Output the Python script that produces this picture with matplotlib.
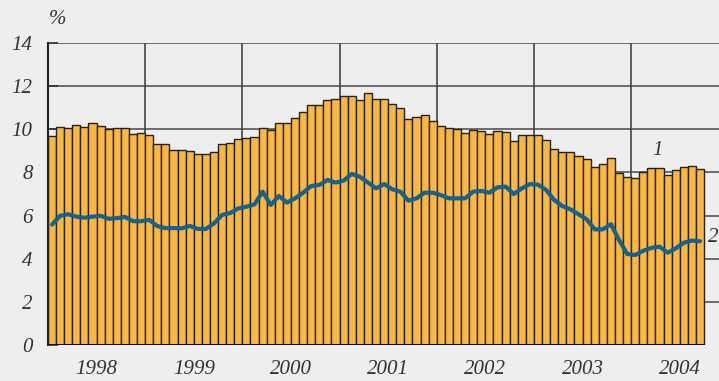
import matplotlib.pyplot as plt
import numpy as np

# monthly values, Jan 1998 - Sep 2004
series1 = [
    9.70, 10.10, 10.05, 10.20, 10.10, 10.30, 10.15, 10.00, 10.07, 10.05, 9.77, 9.85,
    9.72, 9.30, 9.33, 9.03, 9.05, 8.98, 8.84, 8.84, 8.96, 9.30, 9.38, 9.53,
    9.58, 9.66, 10.04, 9.97, 10.28, 10.27, 10.51, 10.80, 11.14, 11.12, 11.37, 11.42,
    11.52, 11.53, 11.37, 11.66, 11.39, 11.39, 11.16, 11.00, 10.50, 10.57, 10.66, 10.40,
    10.14, 10.07, 10.03, 9.82, 9.98, 9.91, 9.77, 9.94, 9.87, 9.44, 9.72, 9.72,
    9.72, 9.49, 9.07, 8.96, 8.96, 8.78, 8.64, 8.27, 8.41, 8.69, 7.99, 7.79,
    7.75, 8.00, 8.22, 8.22, 7.87, 8.09, 8.24, 8.28, 8.18,
]
series2 = [
    5.58, 5.99, 6.06, 5.95, 5.90, 5.95, 5.99, 5.85, 5.88, 5.94, 5.74, 5.74,
    5.80, 5.51, 5.42, 5.42, 5.41, 5.52, 5.38, 5.38, 5.64, 6.03, 6.12, 6.33,
    6.41, 6.52, 7.11, 6.49, 6.91, 6.60, 6.80, 7.06, 7.37, 7.42, 7.65, 7.53,
    7.62, 7.93, 7.80, 7.53, 7.26, 7.46, 7.22, 7.11, 6.69, 6.80, 7.06, 7.06,
    6.95, 6.80, 6.80, 6.80, 7.11, 7.14, 7.06, 7.31, 7.34, 7.00, 7.26, 7.46,
    7.43, 7.19, 6.72, 6.44, 6.29, 6.06, 5.83, 5.36, 5.36, 5.60, 4.87, 4.22,
    4.17, 4.37, 4.50, 4.56, 4.28, 4.48, 4.74, 4.84, 4.81,
]
years = ["1998", "1999", "2000", "2001", "2002", "2003", "2004"]

bg = "#eeeeee"
txt = "#333333"
font = dict(family="Liberation Serif", style="italic", size=15, color=txt)

fig = plt.figure(figsize=(7.19, 3.81), dpi=100, facecolor=bg)
ax = fig.add_axes([48 / 719, 36 / 381, 671 / 719, 302 / 381], facecolor=bg)

x = np.arange(len(series1))
ax.bar(x, series1, width=1.0, color="#f9b840", edgecolor="#222222",
       linewidth=1.0, zorder=3)
ax.plot(x, series2, color="#17608f", linewidth=3.0, zorder=4,
        solid_joinstyle="round", solid_capstyle="round")

# grid
for yv in range(2, 15, 2):
    ax.axhline(yv, color="#555555", linewidth=1.2, zorder=1)
for k in range(1, len(years)):
    ax.axvline(12 * k - 0.5, color="#444444", linewidth=1.2, zorder=1)
ax.hlines(0, -0.5, len(series1) - 0.5, color="#111111", linewidth=2.2, zorder=5)

ax.set_xlim(-0.5, 82.34)
ax.set_ylim(0, 14)

for s in ["top", "right", "bottom"]:
    ax.spines[s].set_visible(False)
ax.spines["left"].set_color("#222222")
ax.spines["left"].set_linewidth(1.5)
ax.spines["left"].set_zorder(6)

ax.set_yticks(range(0, 15, 2))
ax.set_yticklabels([str(v) for v in range(0, 15, 2)], **font)
ax.tick_params(axis="y", direction="in", length=7, width=1.2, color="#333333",
               pad=11)
ax.set_xticks([12 * k + 5.5 for k in range(len(years))])
ax.set_xticklabels(years, **font)
ax.tick_params(axis="x", length=0, pad=11)

fig.text(57 / 719, 1 - 20 / 381, "%", ha="center", va="center", **font)
ax.text(74.7, 9.0, "1", ha="center", va="center", **font)
ax.text(81.6, 4.98, "2", ha="center", va="center", clip_on=False, **font)

fig.savefig("out.png", dpi=100, facecolor=bg)
